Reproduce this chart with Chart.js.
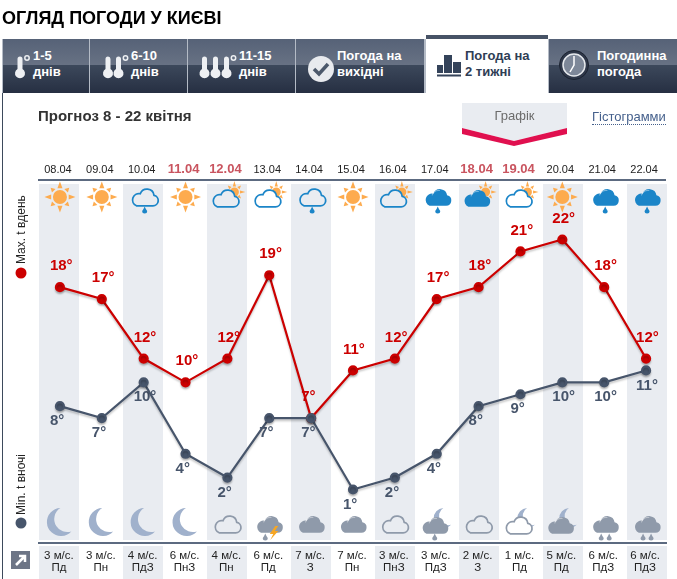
<!DOCTYPE html>
<html lang="uk">
<head>
<meta charset="utf-8">
<title>Огляд погоди у Києві</title>
<script src="https://cdn.jsdelivr.net/npm/chart.js@4"></script>
<style>
    html, body { margin: 0; padding: 0; background: #fff; }
    body { width: 677px; height: 579px; overflow: hidden; position: relative; font-family: Arial, "Liberation Sans", sans-serif; }
    #chart { position: absolute; left: 0; top: 0; }
    .abs { position: absolute; }
    .title { left: 2px; top: 8px; font-size: 18px; line-height: 21px; font-weight: bold; color: #000; white-space: nowrap; }
    .tabstrip { left: 2px; top: 39px; width: 675px; height: 54px; background: #b4bbc6; }
    .tab { position: absolute; top: 39px; height: 54px; background: linear-gradient(#566277 0, #687284 49%, #3c485b 49%, #262f42 100%); }
    .tab span { position: absolute; top: 9px; font-size: 13px; line-height: 16px; font-weight: bold; color: #fff; white-space: nowrap; }
    .tab svg { position: absolute; left: 0; top: 0; }
    .tab.active { top: 35px; height: 58px; background: #fff; border-top: 4px solid #475366; box-sizing: border-box; }
    .tab.active span { color: #2f3d55; top: 9px; }
    .side { left: 2px; top: 93px; width: 1px; height: 486px; background: #3d4a5c; }
    .subtitle { left: 38px; top: 108px; font-size: 15px; line-height: 16px; font-weight: bold; color: #333; white-space: nowrap; }
    .btn { left: 462px; top: 103px; width: 105px; text-align: center; font-size: 13px; line-height: 26px; color: #6b6b6b; }
    .hist { left: 592px; top: 109px; font-size: 13px; line-height: 15px; color: #45608c; border-bottom: 1px dotted #45608c; white-space: nowrap; }
    .vert { font-size: 12px; line-height: 14px; color: #222; white-space: nowrap; transform: rotate(-90deg); transform-origin: left top; }
</style>
</head>
<body>
<canvas id="chart" width="677" height="579"></canvas>

<div class="abs title">ОГЛЯД ПОГОДИ У КИЄВІ</div>

<div class="abs tabstrip"></div>
<div class="tab" style="left:3px;width:86px">
    <svg width="86" height="54"><path fill="#eef0f3" d="M14.500 20a2.500 2.500 0 0 1 5 0v10a5 5 0 1 1-5 0z"/><circle cx="24" cy="19" r="2.200" fill="none" stroke="#eef0f3" stroke-width="1.500"/></svg>
    <span style="left:30px">1-5<br>днів</span>
</div>
<div class="tab" style="left:90px;width:97px">
    <svg width="97" height="54"><g fill="#eef0f3"><path d="M15.500 20a2.500 2.500 0 0 1 5 0v10a5 5 0 1 1-5 0z"/><path d="M26 20a2.500 2.500 0 0 1 5 0v10a5 5 0 1 1-5 0z"/></g><circle cx="35.500" cy="19" r="2.200" fill="none" stroke="#eef0f3" stroke-width="1.500"/></svg>
    <span style="left:41px">6-10<br>днів</span>
</div>
<div class="tab" style="left:188px;width:107px">
    <svg width="107" height="54"><g fill="#eef0f3"><path d="M14 20a2.500 2.500 0 0 1 5 0v10a5 5 0 1 1-5 0z"/><path d="M25 20a2.500 2.500 0 0 1 5 0v10a5 5 0 1 1-5 0z"/><path d="M36 20a2.500 2.500 0 0 1 5 0v10a5 5 0 1 1-5 0z"/></g><circle cx="45.500" cy="19" r="2.200" fill="none" stroke="#eef0f3" stroke-width="1.500"/></svg>
    <span style="left:51px">11-15<br>днів</span>
</div>
<div class="tab" style="left:296px;width:128px">
    <svg width="128" height="54"><circle cx="25" cy="30" r="13" fill="#e8eaee"/><path d="M18 30l5 5 9-10" fill="none" stroke="#4c586b" stroke-width="3.500"/></svg>
    <span style="left:41px">Погода на<br>вихідні</span>
</div>
<div class="tab active" style="left:426px;width:122px">
    <svg width="122" height="54"><g fill="#34435a"><rect x="11" y="26" width="6" height="8"/><rect x="18" y="16" width="8" height="18"/><rect x="27" y="23" width="8" height="11"/><rect x="11" y="35.500" width="24" height="2"/></g></svg>
    <span style="left:39px">Погода на<br>2 тижні</span>
</div>
<div class="tab" style="left:549px;width:128px">
    <svg width="128" height="54"><circle cx="25" cy="26" r="14.500" fill="#2e3749" stroke="#1c2331" stroke-width="1"/><circle cx="25" cy="26" r="11" fill="#7d8798" stroke="#e6e9ed" stroke-width="1.500"/><path d="M25 17v9l-4 7" fill="none" stroke="#fff" stroke-width="1.500"/></svg>
    <span style="left:48px">Погодинна<br>погода</span>
</div>

<div class="abs side"></div>
<div class="abs subtitle">Прогноз 8 - 22 квітня</div>

<svg class="abs" style="left:462px;top:103px" width="105" height="44">
    <path d="M0 0H105V25L52 38 0 25z" fill="#e9ecf1"/>
    <path d="M0 25L52 38 105 25V31L52 43 0 31z" fill="#e0104f"/>
</svg>
<div class="abs btn">Графік</div>
<div class="abs hist">Гістограмми</div>

<div class="abs vert" style="left:14px;top:264px">Max. t вдень</div>
<div class="abs vert" style="left:14px;top:515px">Min. t вночі</div>
<svg class="abs" style="left:15px;top:267px" width="12" height="12"><circle cx="6" cy="6" r="5.500" fill="#cc0000"/></svg>
<svg class="abs" style="left:15px;top:517px" width="12" height="12"><circle cx="6" cy="6" r="5.500" fill="#47556b"/></svg>
<svg class="abs" style="left:11px;top:551px" width="19" height="18"><rect width="19" height="18" fill="#6d7586"/><path d="M5 14L13 6M8 5h6v6" fill="none" stroke="#fff" stroke-width="2.500"/></svg>

<script>
// дані графіка
const dates = ["08.04", "09.04", "10.04", "11.04", "12.04", "13.04", "14.04", "15.04", "16.04", "17.04", "18.04", "19.04", "20.04", "21.04", "22.04"];
const weekend = ["11.04", "12.04", "18.04", "19.04"];
const maxTemps = [18, 17, 12, 10, 12, 19, 7, 11, 12, 17, 18, 21, 22, 18, 12];
const minTemps = [8, 7, 10, 4, 2, 7, 7, 1, 2, 4, 8, 9, 10, 10, 11];
const windSpeed = [3, 3, 4, 6, 4, 6, 7, 7, 3, 3, 2, 1, 5, 6, 6];
const windDir = ["Пд", "Пн", "ПдЗ", "ПнЗ", "Пн", "Пд", "З", "Пн", "ПнЗ", "ПдЗ", "З", "Пд", "Пд", "ПдЗ", "ПдЗ"];
const dayIcons = ["sun", "sun", "rain", "sun", "cloudsun", "cloudsun", "rain", "sun", "cloudsun", "fillrain", "fillsun", "cloudsun", "sun", "fillrain", "fillrain"];
const nightIcons = ["moon", "moon", "moon", "moon", "outline", "storm", "fill", "fill", "outline", "fillmoonrain", "outline", "outlinemoon", "fillmoon", "fillrain2", "fillrain2"];

const windLabels = windSpeed.map((s, i) => [s + " м/с.", windDir[i]]);

const RED = "#cc0000";
const SLATE = "#47556b";
const BAND = "#e9ecf1";
const RULE = "#5c6a80";

const cloudPath = new Path2D("M-7.500 8H7.500a4.800 4.800 0 0 0 1-9.500a6.500 6.500 0 0 0-12.500-1.500a5.800 5.800 0 0 0-3.500 11z");

// сонце: r - ядро, R - кінці довгих променів
function drawSun(ctx, x, y, r, R, color) {
    ctx.fillStyle = color;
    ctx.beginPath();
    ctx.arc(x, y, r, 0, Math.PI * 2);
    ctx.fill();
    const w = r * 0.36;
    for (let a = 0; a < 8; a++) {
        const end = a % 2 === 0 ? R : R * 0.85;
        ctx.save();
        ctx.translate(x, y);
        ctx.rotate(a * Math.PI / 4);
        ctx.beginPath();
        ctx.moveTo(r * 1.25, -w);
        ctx.lineTo(end, 0);
        ctx.lineTo(r * 1.25, w);
        ctx.fill();
        ctx.restore();
    }
}

function drawCloud(ctx, x, y, color, filled, bg) {
    ctx.save();
    ctx.translate(x, y);
    ctx.scale(1.1, 1.1);
    if (filled) {
        ctx.fillStyle = color;
        ctx.fill(cloudPath);
        ctx.strokeStyle = "rgba(255,255,255,0.4)";
        ctx.lineWidth = 1;
        ctx.beginPath();
        ctx.arc(1, 0.5, 6.5, Math.PI * 1.1, Math.PI * 1.55);
        ctx.stroke();
    } else {
        ctx.fillStyle = bg;
        ctx.fill(cloudPath);
        ctx.strokeStyle = color;
        ctx.lineWidth = 1.6;
        ctx.stroke(cloudPath);
    }
    ctx.restore();
}

function drawDrop(ctx, x, y, color) {
    ctx.fillStyle = color;
    ctx.beginPath();
    ctx.moveTo(x, y - 3.5);
    ctx.quadraticCurveTo(x + 1, y - 1, x + 2.5, y + 1);
    ctx.arc(x, y + 1, 2.5, 0, Math.PI);
    ctx.quadraticCurveTo(x - 1, y - 1, x, y - 3.5);
    ctx.fill();
}

// серп відкритий угору праворуч
function drawMoon(ctx, x, y, R, color) {
    const theta = -25 * Math.PI / 180;
    const d = R * 0.5;
    const r2 = R * 0.93;
    const alpha = Math.acos((d * d + R * R - r2 * r2) / (2 * d * R));
    const cx = x + d * Math.cos(theta);
    const cy = y + d * Math.sin(theta);
    const topAng = Math.atan2(y + R * Math.sin(theta - alpha) - cy, x + R * Math.cos(theta - alpha) - cx);
    const botAng = Math.atan2(y + R * Math.sin(theta + alpha) - cy, x + R * Math.cos(theta + alpha) - cx);
    ctx.fillStyle = color;
    ctx.beginPath();
    ctx.arc(x, y, R, theta + alpha, theta - alpha + Math.PI * 2, false);
    ctx.arc(cx, cy, r2, topAng, botAng, true);
    ctx.closePath();
    ctx.fill();
}

function drawBolt(ctx, x, y) {
    ctx.fillStyle = "#f6a623";
    ctx.beginPath();
    ctx.moveTo(x + 2, y - 7);
    ctx.lineTo(x - 3.5, y + 1);
    ctx.lineTo(x, y + 1);
    ctx.lineTo(x - 3, y + 7);
    ctx.lineTo(x + 5, y - 2);
    ctx.lineTo(x + 1.5, y - 2);
    ctx.lineTo(x + 5, y - 7);
    ctx.fill();
}

function drawIcon(ctx, type, x, y, bg) {
    const blue = "#1b85c8", sun = "#fdab4e", gray = "#8f9aaa", moon = "#a0b1cc";
    if (type === "sun") drawSun(ctx, x, y, 7, 15.5, sun);
    if (type === "rain") { drawCloud(ctx, x + 1, y, blue, false, bg); drawDrop(ctx, x + 1, y + 13, blue); }
    if (type === "fillrain") { drawCloud(ctx, x + 1, y, blue, true); drawDrop(ctx, x + 1, y + 13, blue); }
    if (type === "cloudsun") { drawSun(ctx, x + 7, y - 5, 4.5, 11, sun); drawCloud(ctx, x - 2, y + 1, blue, false, bg); }
    if (type === "fillsun") { drawSun(ctx, x + 7, y - 5, 4.5, 11, sun); drawCloud(ctx, x - 2, y + 1, blue, true); }
    if (type === "moon") drawMoon(ctx, x + 1, y + 1, 14, moon);
    if (type === "outline") drawCloud(ctx, x, y + 3, gray, false, bg);
    if (type === "fill") drawCloud(ctx, x, y + 3, gray, true);
    if (type === "storm") { drawCloud(ctx, x, y + 3, gray, true); drawDrop(ctx, x - 4, y + 16, gray); drawBolt(ctx, x + 4, y + 12); }
    if (type === "fillmoonrain") { drawMoon(ctx, x + 7, y - 3, 10, moon); drawCloud(ctx, x - 2, y + 4, gray, true); drawDrop(ctx, x - 2, y + 16, gray); }
    if (type === "outlinemoon") { drawMoon(ctx, x + 7, y - 3, 10, moon); drawCloud(ctx, x - 2, y + 4, gray, false, bg); }
    if (type === "fillmoon") { drawMoon(ctx, x + 7, y - 3, 10, moon); drawCloud(ctx, x - 2, y + 4, gray, true); }
    if (type === "fillrain2") { drawCloud(ctx, x + 1, y + 3, gray, true); drawDrop(ctx, x - 3, y + 16, gray); drawDrop(ctx, x + 5, y + 16, gray); }
}

// смуги, лінійки та іконки під лініями
const backdropPlugin = {
    id: "backdrop",
    beforeDatasetsDraw(chart) {
        const ctx = chart.ctx;
        const xs = chart.scales.x;
        ctx.save();
        dates.forEach((d, i) => {
            if (i % 2 === 0) {
                ctx.fillStyle = BAND;
                ctx.fillRect(39 + 42 * i, 184, 40, 356);
                ctx.fillRect(39 + 42 * i, 546, 40, 33);
            }
        });
        ctx.fillStyle = RULE;
        ctx.fillRect(38, 179, 628, 2);
        ctx.fillRect(38, 542, 629, 2);
        dates.forEach((d, i) => {
            const x = xs.getPixelForValue(i);
            const bg = i % 2 === 0 ? BAND : "#fff";
            drawIcon(ctx, dayIcons[i], x, 197, bg);
            drawIcon(ctx, nightIcons[i], x, 521, bg);
        });

        // підписи температур лежать під лініями
        ctx.font = "bold 15px Arial, 'Liberation Sans', sans-serif";
        ctx.textAlign = "left";
        ctx.textBaseline = "middle";
        [[0, RED, -21], [1, SLATE, 15]].forEach(([idx, color, dy]) => {
            const meta = chart.getDatasetMeta(idx);
            const vals = chart.data.datasets[idx].data;
            ctx.fillStyle = color;
            meta.data.forEach((pt, i) => {
                ctx.fillText(vals[i] + "°", pt.x - 10, pt.y + dy);
            });
        });
        ctx.restore();
    },
    beforeDatasetDraw(chart) {
        const ctx = chart.ctx;
        ctx.save();
        ctx.shadowColor = "rgba(0,0,0,0.22)";
        ctx.shadowBlur = 2;
        ctx.shadowOffsetY = 2;
    },
    afterDatasetDraw(chart) {
        chart.ctx.restore();
    }
};

const ctx = document.getElementById("chart").getContext("2d");
new Chart(ctx, {
    type: "line",
    data: {
        labels: dates,
        datasets: [
            { label: "Max. t вдень", data: maxTemps, borderColor: RED, backgroundColor: RED, pointBackgroundColor: RED, borderWidth: 2.2, pointRadius: 4, tension: 0, fill: false, order: 2 },
            { label: "Min. t вночі", data: minTemps, borderColor: SLATE, backgroundColor: SLATE, pointBackgroundColor: SLATE, borderWidth: 2.2, pointRadius: 4, tension: 0, fill: false, order: 1 }
        ]
    },
    plugins: [backdropPlugin],
    options: {
        responsive: false,
        animation: false,
        layout: { padding: { left: 39, right: 10, top: 150, bottom: 0 } },
        plugins: { legend: { display: false }, tooltip: { enabled: false } },
        scales: {
            x: {
                position: "top",
                offset: true,
                grid: { display: false, drawTicks: false },
                border: { display: false },
                afterFit(scale) { scale.height = 30; },
                ticks: {
                    autoSkip: false,
                    maxRotation: 0,
                    padding: 3,
                    labelOffset: -2,
                    color: c => weekend.includes(dates[c.index]) ? "#c9545f" : "#222",
                    font: c => weekend.includes(dates[c.index])
                        ? { family: "Arial, 'Liberation Sans', sans-serif", size: 13, weight: "bold" }
                        : { family: "Arial, 'Liberation Sans', sans-serif", size: 11 }
                }
            },
            xWind: {
                type: "category",
                labels: windLabels,
                position: "bottom",
                offset: true,
                grid: { display: false, drawTicks: false },
                border: { display: false },
                afterFit(scale) { scale.height = 30; },
                ticks: {
                    z: 1,
                    autoSkip: false,
                    maxRotation: 0,
                    padding: 1,
                    labelOffset: -1,
                    color: "#222",
                    font: { family: "Arial, 'Liberation Sans', sans-serif", size: 11.5, lineHeight: 1.05 }
                }
            },
            y: { display: false, min: -4, max: 27 }
        }
    }
});
</script>
</body>
</html>
